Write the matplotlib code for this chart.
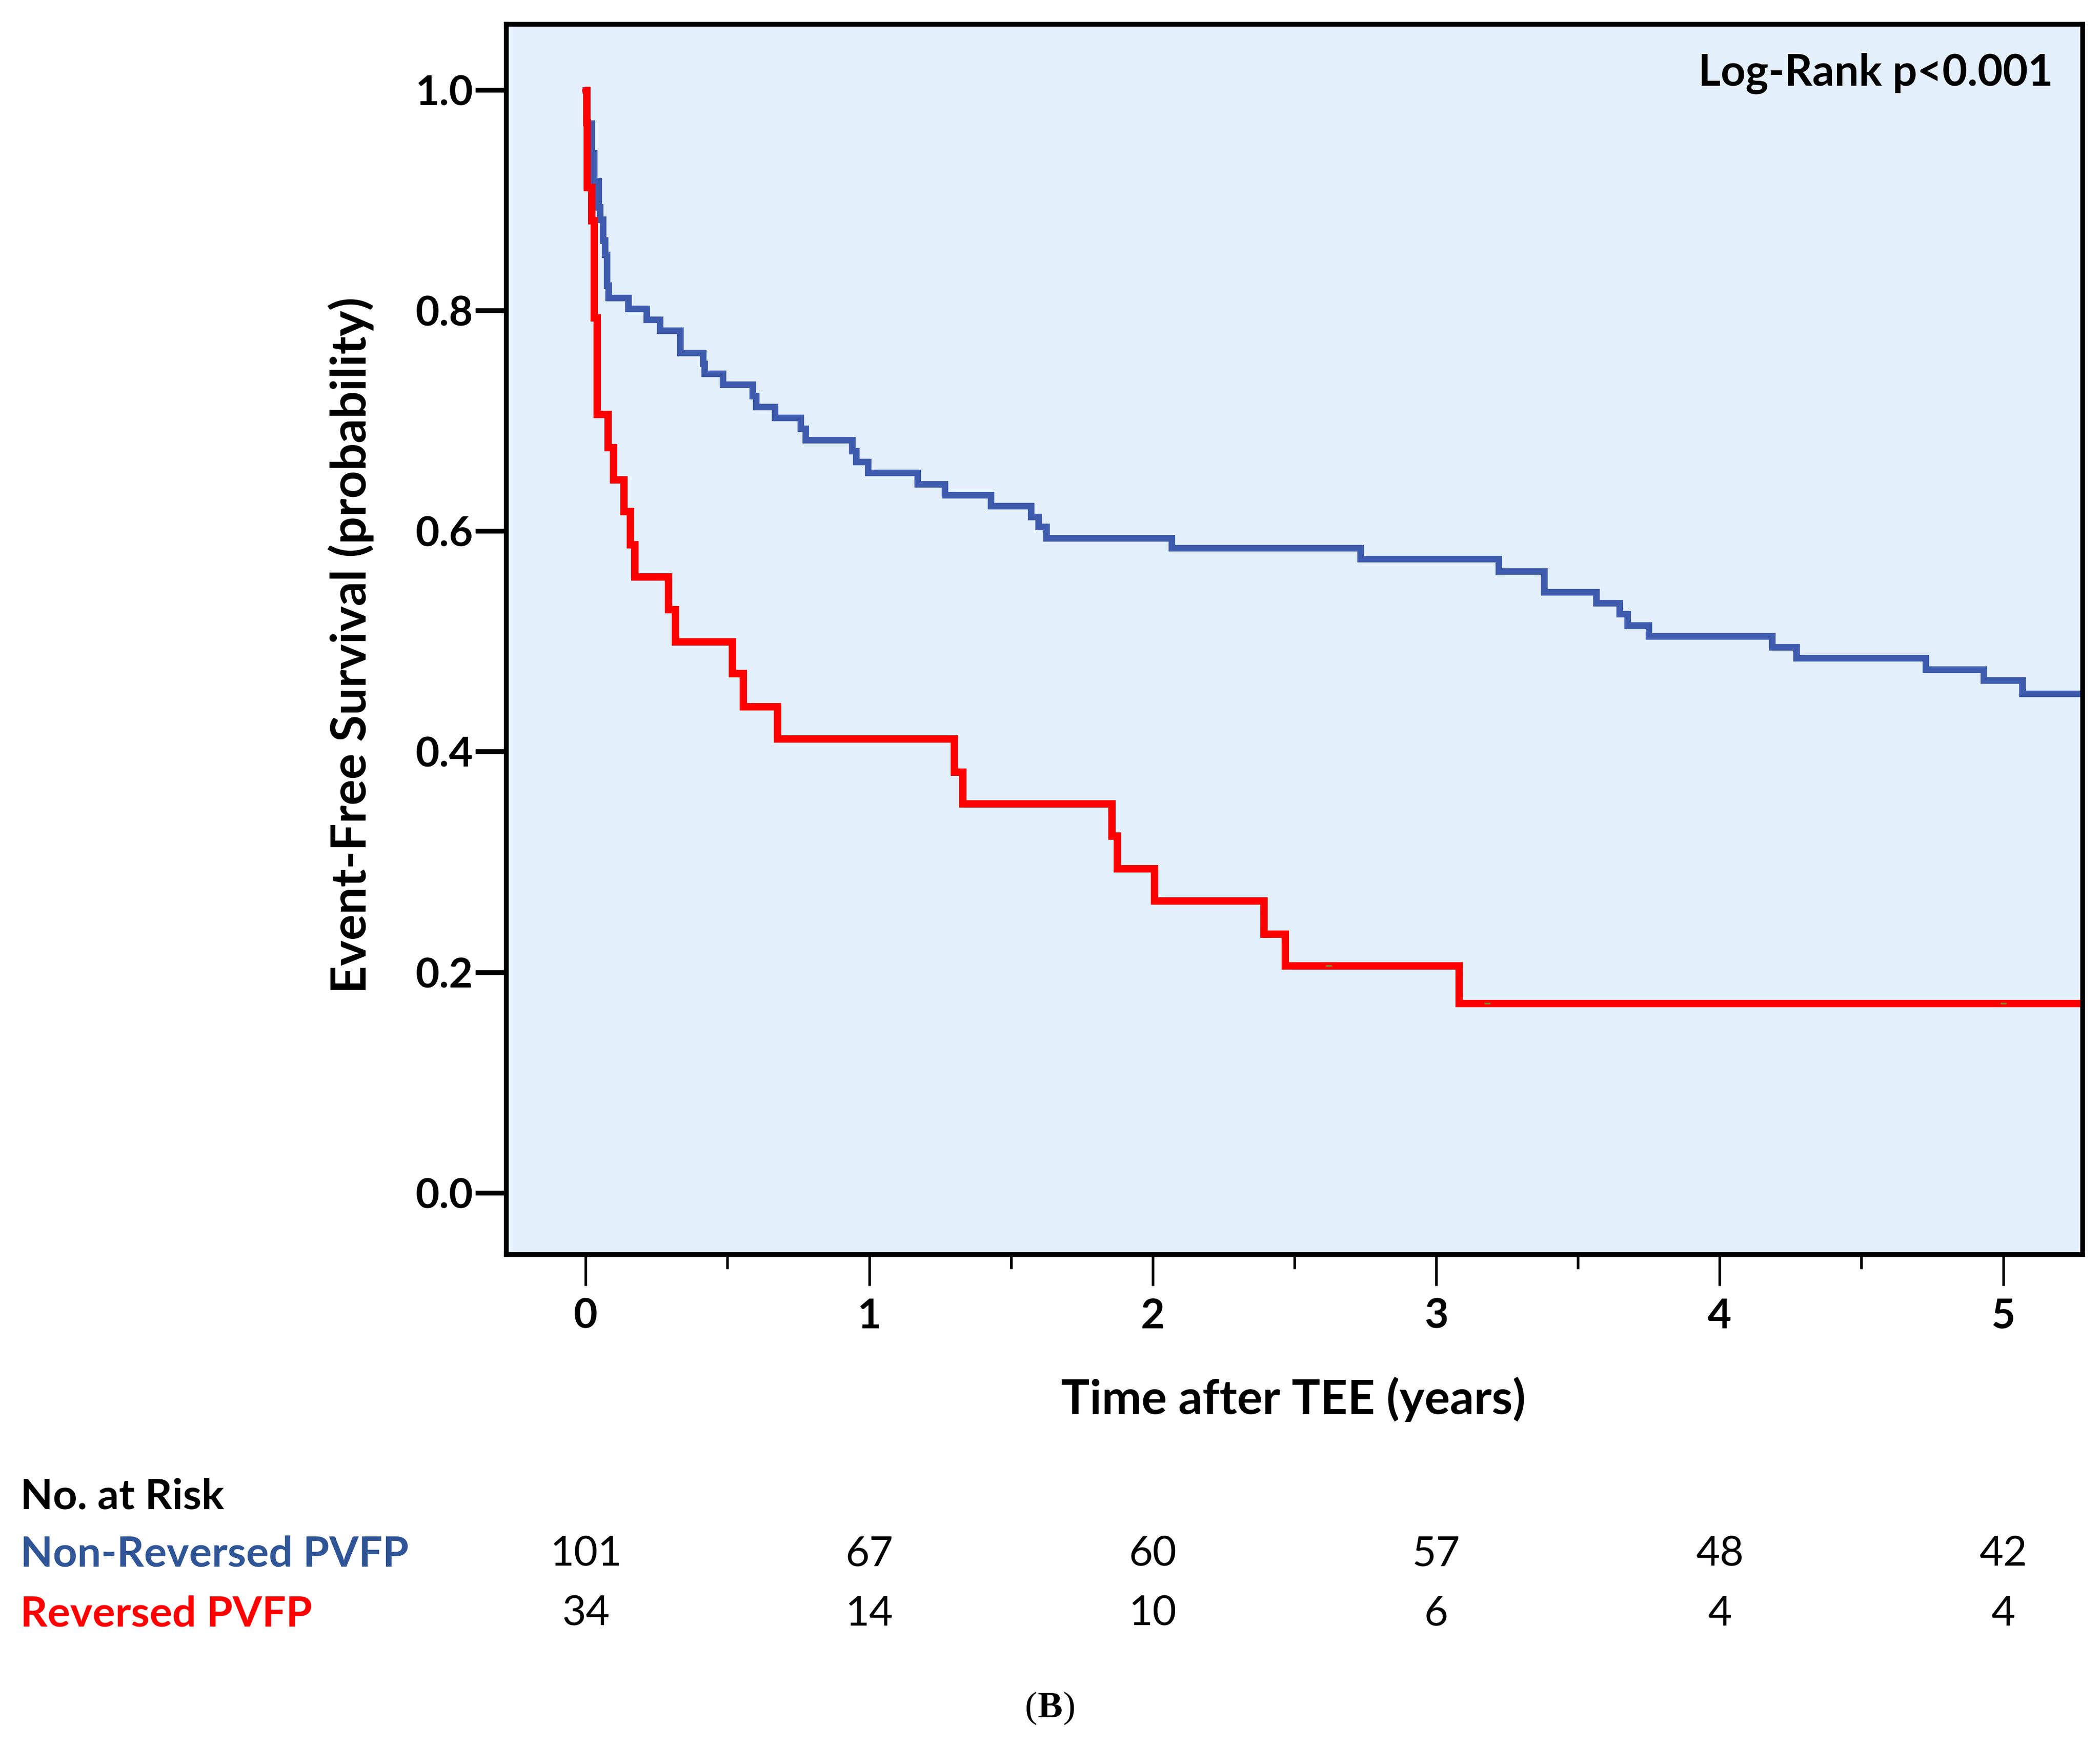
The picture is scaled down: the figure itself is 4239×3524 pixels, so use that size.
import numpy as np
import matplotlib
matplotlib.use("Agg")
import matplotlib.pyplot as plt
from matplotlib.transforms import blended_transform_factory

# Kaplan-Meier step data (time in years, survival)
t_blue = [0, 0.005, 0.02, 0.03, 0.045, 0.05, 0.06, 0.067, 0.075, 0.08,
          0.150, 0.215, 0.262, 0.333, 0.413, 0.419, 0.483, 0.588, 0.601, 0.667,
          0.758, 0.776, 0.94, 0.953, 0.996, 1.17, 1.266, 1.429, 1.570, 1.597,
          1.624, 2.067, 2.732, 3.220, 3.381, 3.565, 3.647, 3.674, 3.750, 4.184,
          4.271, 4.727, 4.931, 5.067, 5.28]
s_blue = [1.0, 0.97, 0.943, 0.918, 0.894, 0.883, 0.864, 0.851, 0.823, 0.812,
          0.802, 0.792, 0.782, 0.762, 0.752, 0.743, 0.733, 0.723, 0.713, 0.703,
          0.693, 0.683, 0.673, 0.663, 0.653, 0.643, 0.633, 0.623, 0.613, 0.604,
          0.594, 0.585, 0.575, 0.564, 0.545, 0.535, 0.525, 0.515, 0.505, 0.495,
          0.485, 0.475, 0.465, 0.453, 0.453]

t_red = [0, 0.003, 0.005, 0.02, 0.03, 0.04, 0.078, 0.097, 0.134, 0.157,
         0.172, 0.292, 0.315, 0.516, 0.556, 0.676, 1.299, 1.329, 1.855, 1.875,
         2.005, 2.392, 2.467, 3.08, 5.28]
s_red = [1.0, 0.971, 0.912, 0.882, 0.794, 0.706, 0.676, 0.647, 0.618, 0.588,
         0.559, 0.529, 0.500, 0.471, 0.441, 0.412, 0.382, 0.353, 0.324, 0.294,
         0.265, 0.235, 0.206, 0.172, 0.172]

# tiny censor marks on the red curve
cens_red_t = [2.62, 3.18, 5.0]

risk_times = [0, 1, 2, 3, 4, 5]
risk_blue = [101, 67, 60, 57, 48, 42]
risk_red = [34, 14, 10, 6, 4, 4]

blue = "#3F5BAE"
red = "#FF0000"
blue_txt = "#2F5597"
bg = "#E3EFFB"

plt.rcParams['font.family'] = ['Lato', 'DejaVu Sans']

fig = plt.figure(figsize=(4239 / 300, 3524 / 300), dpi=300)
ax = fig.add_axes([0.2411, 0.2814, 0.7506, 0.7048])
ax.set_facecolor(bg)

ax.plot(t_blue, s_blue, drawstyle='steps-post', color=blue, lw=3.2,
        solid_joinstyle='miter')
ax.plot(t_red, s_red, drawstyle='steps-post', color=red, lw=3.6,
        solid_joinstyle='miter', solid_capstyle='round')
cy = [s_red[np.searchsorted(t_red, c, side='right') - 1] for c in cens_red_t]
ax.plot(cens_red_t, cy, linestyle='none', marker='_', ms=3, mew=0.8,
        color='#7a8a30')

ax.set_xlim(-0.28, 5.28)
ax.set_ylim(-0.056, 1.06)

for sp in ax.spines.values():
    sp.set_linewidth(2.3)

ax.set_yticks([0.0, 0.2, 0.4, 0.6, 0.8, 1.0])
ax.set_yticklabels(['0.0', '0.2', '0.4', '0.6', '0.8', '1.0'])
ax.set_xticks(risk_times)
ax.set_xticks([0.5, 1.5, 2.5, 3.5, 4.5], minor=True)
ax.tick_params(axis='y', direction='out', length=15, width=2.3, pad=1,
               labelsize=20)
ax.tick_params(axis='x', which='major', direction='out', length=15,
               width=1.3, pad=6, labelsize=20)
ax.tick_params(axis='x', which='minor', direction='out', length=7, width=1.3)
for lab in ax.get_xticklabels() + ax.get_yticklabels():
    lab.set_fontweight('bold')

fig.text(0.1671, 0.6304, 'Event-Free Survival (probability)', rotation=90,
         ha='center', va='center', fontsize=23.5, fontweight='bold')
fig.text(0.616, 0.1986, 'Time after TEE (years)', ha='center', va='center',
         fontsize=23, fontweight='bold')
fig.text(0.9777, 0.9578, 'Log-Rank p<0.001', ha='right', va='center',
         fontsize=21, fontweight='bold')

# number at risk table
tr = blended_transform_factory(ax.transData, fig.transFigure)
fig.text(0.0096, 0.1426, 'No. at Risk', ha='left', va='center',
         fontsize=20.5, fontweight='bold')
fig.text(0.0096, 0.1097, 'Non-Reversed PVFP', ha='left', va='center',
         fontsize=20.5, fontweight='bold', color=blue_txt)
fig.text(0.0096, 0.0755, 'Reversed PVFP', ha='left', va='center',
         fontsize=20.5, fontweight='bold', color=red)
for x, nb, nr in zip(risk_times, risk_blue, risk_red):
    ax.text(x, 0.1097, str(nb), transform=tr, ha='center', va='center',
            fontsize=20)
    ax.text(x, 0.0755, str(nr), transform=tr, ha='center', va='center',
            fontsize=20)

# panel letter: regular parentheses around a bold B
fig.text(0.5, 0.0215, 'B', ha='center', va='center', fontsize=18,
         family='Liberation Serif', fontweight='bold')
fig.text(0.4938, 0.0215, '(', ha='right', va='center', fontsize=18,
         family='Liberation Serif')
fig.text(0.5062, 0.0215, ')', ha='left', va='center', fontsize=18,
         family='Liberation Serif')

fig.savefig('out.png', dpi=300)
